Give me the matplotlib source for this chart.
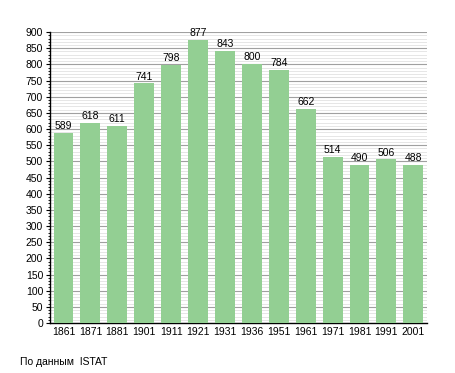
import numpy as np
import matplotlib
matplotlib.use("Agg")
import matplotlib.pyplot as plt
from matplotlib.ticker import MultipleLocator

# Data
years = ["1861", "1871", "1881", "1901", "1911", "1921", "1931",
         "1936", "1951", "1961", "1971", "1981", "1991", "2001"]
population = [589, 618, 611, 741, 798, 877, 843, 800, 784, 662, 514, 490, 506, 488]
source_note = "По данным  ISTAT"

plt.rcParams["font.family"] = ["Liberation Sans", "DejaVu Sans"]

fig = plt.figure(figsize=(4.55, 3.73), dpi=100)
ax = fig.add_axes([0.110, 0.134, 0.828, 0.780])

x = np.arange(len(years))
ax.bar(x, population, width=0.74, color="#93cf93", zorder=3)
for xi, v in zip(x, population):
    ax.text(xi, v + 6, str(v), ha="center", va="bottom", fontsize=7.5, zorder=4)

ax.set_xlim(-0.5, len(years) - 0.5)
ax.set_ylim(0, 900)
ax.yaxis.set_major_locator(MultipleLocator(50))
ax.yaxis.set_minor_locator(MultipleLocator(10))
ax.grid(axis="y", which="major", color="#a0a0a0", linewidth=0.8, zorder=0)
ax.grid(axis="y", which="minor", color="#e2e2e2", linewidth=0.6, zorder=0)

ax.set_xticks(x)
ax.set_xticklabels(years)
ax.tick_params(axis="x", length=0, labelsize=7.5, pad=3)
ax.tick_params(axis="y", which="major", length=3, labelsize=7.5, pad=2)
ax.tick_params(axis="y", which="minor", length=1.5)

for s in ["top", "right"]:
    ax.spines[s].set_visible(False)
ax.spines["left"].set_linewidth(1.0)
ax.spines["bottom"].set_linewidth(1.0)

fig.text(20 / 455, 1 - 362 / 373, source_note, fontsize=7.5, va="center", ha="left")

fig.savefig("out.png", dpi=100)
